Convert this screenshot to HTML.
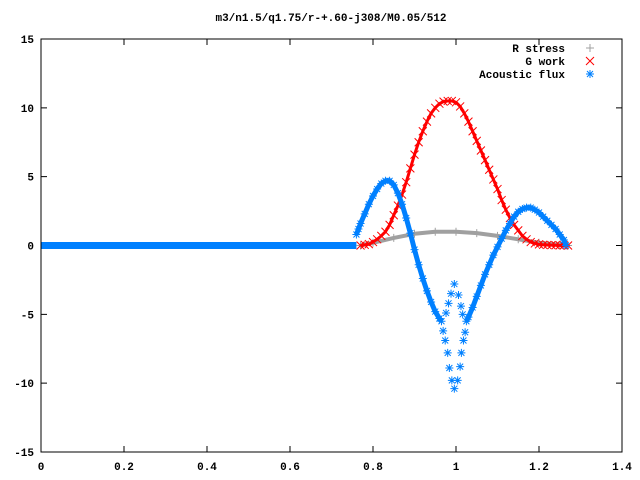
<!DOCTYPE html>
<html><head><meta charset="utf-8"><style>
body{margin:0;background:#fff}
svg{display:block;font-family:"Liberation Mono","DejaVu Sans Mono",monospace;font-size:11px;font-weight:bold}
</style></head><body>
<svg id="c" width="640" height="480" xmlns="http://www.w3.org/2000/svg">
<rect width="640" height="480" fill="#fff"/>
<text x="331" y="21" text-anchor="middle">m3/n1.5/q1.75/r-+.60-j308/M0.05/512</text>
<g id="axes"></g>
<g id="series"></g>
<g>
<text x="565" y="52" text-anchor="end">R stress</text>
<text x="565" y="65" text-anchor="end">G work</text>
<text x="565" y="78" text-anchor="end">Acoustic flux</text>
</g>
<rect x="41" y="39" width="581" height="413" fill="none" stroke="#000"/>
</svg>
<script>
const xTicks=[0,0.2,0.4,0.6,0.8,1,1.2,1.4];
const xTickLabels=["0","0.2","0.4","0.6","0.8","1","1.2","1.4"];
const yTicks=[15,10,5,0,-5,-10,-15];
const yTickLabels=["15","10","5","0","-5","-10","-15"];
const baseX=[0,0.76];
const baseY=[0,0];
const greyX=[0.77,0.80,0.85,0.90,0.95,1.00,1.05,1.10,1.15,1.20,1.25,1.27];
const greyY=[0,0.2,0.55,0.85,1.0,1.0,0.9,0.7,0.45,0.2,0.05,0];
const redX=[0.77,0.78,0.79,0.80,0.81,0.82,0.83,0.84,0.85,0.86,0.87,0.88,0.89,0.90,0.91,0.92,0.93,0.94,0.95,0.96,0.97,0.98,0.99,1.00,1.01,1.02,1.03,1.04,1.05,1.06,1.07,1.08,1.09,1.10,1.11,1.12,1.13,1.14,1.15,1.16,1.17,1.18,1.19,1.20,1.21,1.22,1.23,1.24,1.25,1.26,1.27];
const redY=[0,0.05,0.1,0.25,0.45,0.7,1.0,1.5,2.2,2.9,3.7,4.6,5.6,6.6,7.5,8.3,9.0,9.6,10.0,10.3,10.45,10.5,10.5,10.4,10.1,9.6,9.0,8.3,7.6,6.9,6.2,5.5,4.8,4.1,3.3,2.6,2.0,1.5,1.1,0.7,0.45,0.25,0.15,0.08,0.05,0.04,0.03,0.02,0.01,0.01,0];
const blueLeftX=[0.76,0.765,0.77,0.78,0.79,0.80,0.81,0.82,0.83,0.84,0.85,0.86,0.87,0.88,0.89,0.90,0.91,0.92,0.93,0.94,0.95,0.96,0.965];
const blueLeftY=[0.8,1.2,1.6,2.3,3.0,3.6,4.1,4.5,4.7,4.7,4.4,3.8,3.0,2.0,0.9,-0.3,-1.4,-2.4,-3.3,-4.1,-4.8,-5.3,-5.5];
const blueDropX=[0.969,0.974,0.980,0.984,0.990,0.996,1.004,1.010,1.013,1.018,1.022,0.996,0.988,1.006,0.982,1.012,0.976,1.016];
const blueDropY=[-6.2,-6.9,-7.8,-8.9,-9.8,-10.4,-9.8,-8.8,-7.8,-6.9,-6.3,-2.8,-3.5,-3.6,-4.2,-4.4,-4.9,-5.0];
const blueRightX=[1.025,1.03,1.04,1.05,1.06,1.07,1.08,1.09,1.10,1.11,1.12,1.13,1.14,1.15,1.16,1.17,1.18,1.19,1.20,1.21,1.22,1.23,1.24,1.25,1.26,1.265];
const blueRightY=[-5.5,-5.2,-4.5,-3.7,-2.9,-2.1,-1.4,-0.7,-0.1,0.5,1.1,1.6,2.1,2.45,2.65,2.75,2.75,2.6,2.4,2.1,1.8,1.5,1.2,0.8,0.4,0];

const X0=41,X1=622,Y0=452,Y1=39;
function sx(v){return X0+(v-0)/(1.4-0)*(X1-X0);}
function sy(v){return Y0-(v+15)/30*(Y0-Y1);}
const NS="http://www.w3.org/2000/svg";
const axes=document.getElementById('axes'),ser=document.getElementById('series');
function mk(tag,attrs,parent){const e=document.createElementNS(NS,tag);for(const k in attrs)e.setAttribute(k,attrs[k]);parent.appendChild(e);return e;}
xTicks.forEach((t,i)=>{const x=sx(t);
 const l=mk('path',{d:`M${x},${Y0}v-6M${x},${Y1}v6`,stroke:'#000'},axes);
 
 
 const tx=mk('text',{x:x,y:Y0+18,'text-anchor':'middle'},axes);tx.textContent=xTickLabels[i];
 
 
});
yTicks.forEach((t,i)=>{const y=sy(t);
 const l=mk('path',{d:`M${X0},${y}h6M${X1},${y}h-6`,stroke:'#000'},axes);
 
 
 const tx=mk('text',{x:X0-7,y:y+4,'text-anchor':'end'},axes);tx.textContent=yTickLabels[i];
 
 
});
function line(xs,ys,color,w,name){
 const p=mk('polyline',{points:xs.map((x,i)=>sx(x)+','+sy(ys[i])).join(' '),fill:'none',stroke:color,'stroke-width':w,'stroke-linejoin':'round'},ser);
 
 
}
function marker(type,x,y,color,name){
 let d;
 if(type==='+')d=`M${x-4},${y}h8M${x},${y-4}v8`;
 else if(type==='x')d=`M${x-4},${y-4}l8,8M${x-4},${y+4}l8,-8`;
 else d=`M${x-4},${y}h8M${x},${y-4}v8M${x-3},${y-3}l6,6M${x-3},${y+3}l6,-6`;
 const p=mk('path',{d:d,stroke:color,'stroke-width':1},ser);
 
 
}
function pts(xs,ys,type,color,name){xs.forEach((x,i)=>marker(type,sx(x),sy(ys[i]),color,name));}
line(greyX,greyY,'#a0a0a0',4,'r-stress-line');
pts(greyX,greyY,'+','#a0a0a0','r-stress-point');
line(redX,redY,'#ff0000',3,'g-work-line');
pts(redX,redY,'x','#ff0000','g-work-point');
line(baseX,baseY,'#0080ff',7,'acoustic-flux-baseline');
line(blueLeftX,blueLeftY,'#0080ff',5,'acoustic-flux-left-line');
pts(blueLeftX,blueLeftY,'*','#0080ff','acoustic-flux-point');
pts(blueDropX,blueDropY,'*','#0080ff','acoustic-flux-point');
line(blueRightX,blueRightY,'#0080ff',5,'acoustic-flux-right-line');
pts(blueRightX,blueRightY,'*','#0080ff','acoustic-flux-point');
marker('+',590,48,'#a0a0a0','legend-marker-r-stress');
marker('x',590,61,'#ff0000','legend-marker-g-work');
marker('*',590,74,'#0080ff','legend-marker-acoustic-flux');
</script>
</body></html>
